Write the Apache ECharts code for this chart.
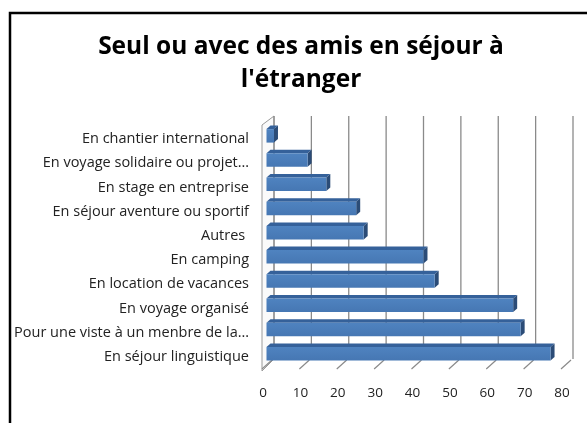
<!DOCTYPE html>
<html>
<head>
<meta charset="utf-8">
<script src="https://cdn.jsdelivr.net/npm/echarts@6/dist/echarts.min.js"></script>
<style>
  html, body { margin: 0; padding: 0; background: #fff; }
  #chart { width: 587px; height: 423px; }
</style>
</head>
<body>
<div id="chart"></div>
<script>
const categories = [
  'En chantier international',
  'En voyage solidaire ou projet…',
  'En stage en entreprise',
  'En séjour aventure ou sportif',
  'Autres ',
  'En camping',
  'En location de vacances',
  'En voyage organisé',
  'Pour une viste à un menbre de la…',
  'En séjour linguistique'
]
const values = [2, 11, 16, 24, 26, 42, 45, 66, 68, 76]
const ticks = [0, 10, 20, 30, 40, 50, 60, 70, 80]

const chart = echarts.init(document.getElementById('chart'))

// depth of the 3d box
const DX = 11
const DY = 10

// back wall gridlines + floor ticks (+ left wall on first item)
const renderWall = (params, api) => {
  const cs = params.coordSys
  const v = api.value(0)
  const x = api.coord([v, 0])[0]
  const top = cs.y
  const bottom = cs.y + cs.height
  const children = [
    {
      type: 'line',
      shape: { x1: x + DX, y1: top - DY - 1, x2: x + DX, y2: bottom - DY },
      style: { stroke: '#8a8a8a', lineWidth: 1.3 }
    },
    {
      type: 'line',
      shape: { x1: x - 1, y1: bottom, x2: x + DX - 2, y2: bottom - DY + 1 },
      style: { stroke: '#8a8a8a', lineWidth: 1.2 }
    }
  ]
  if (v === 0) {
    children.unshift({
      type: 'polygon',
      shape: {
        points: [
          [x - 1, bottom + 2],
          [x - 1, top - 2],
          [x + DX, top - DY - 1],
          [x + DX, bottom - DY]
        ]
      },
      style: { fill: '#fafafa', stroke: '#9a9a9a', lineWidth: 1 }
    })
  }
  return { type: 'group', children }
}

// 3d bars
const renderBar = (params, api) => {
  const idx = api.value(1)
  const end = api.coord([api.value(0), idx])
  const start = api.coord([0, idx])
  const x0 = start[0] + 3.5
  const x1 = end[0] + 3.5
  const t = end[1] - 10
  const b = end[1] + 3.5
  const d = 4
  const dy = 3.5
  return {
    type: 'group',
    children: [
      {
        type: 'polygon',
        shape: { points: [[x0, t], [x1, t], [x1 + d, t - dy], [x0 + d, t - dy]] },
        style: { fill: '#35619a' }
      },
      {
        type: 'polygon',
        shape: { points: [[x1, t], [x1 + d, t - dy], [x1 + d, b - dy], [x1, b]] },
        style: { fill: '#2b4c77' }
      },
      {
        type: 'rect',
        shape: { x: x0, y: t, width: x1 - x0, height: b - t },
        style: {
          fill: new echarts.graphic.LinearGradient(0, 0, 0, 1, [
            { offset: 0, color: '#4f83c0' },
            { offset: 1, color: '#4677b3' }
          ])
        }
      }
    ]
  }
}

const option = {
  backgroundColor: '#fff',
  animation: false,
  title: {
    text: "Seul ou avec des amis en séjour à\nl'étranger",
    left: 296,
    top: 26,
    textAlign: 'center',
    textStyle: {
      fontFamily: 'Open Sans',
      fontWeight: 'bold',
      fontSize: 24.5,
      lineHeight: 33,
      color: '#000'
    }
  },
  graphic: [
    {
      type: 'polyline',
      shape: { points: [[10, 423], [10, 13], [587, 13]] },
      style: { stroke: '#000', lineWidth: 2.5, fill: null }
    }
  ],
  grid: {
    left: 263,
    top: 127,
    width: 299,
    height: 242
  },
  xAxis: {
    type: 'value',
    min: 0,
    max: 80,
    interval: 10,
    axisLine: { show: false },
    axisTick: { show: false },
    splitLine: { show: false },
    axisLabel: {
      margin: 17,
      fontFamily: 'Open Sans',
      fontSize: 13.5,
      color: '#222'
    }
  },
  yAxis: {
    type: 'category',
    data: categories,
    inverse: true,
    axisLine: { show: false },
    axisTick: { show: false },
    axisLabel: {
      margin: 14,
      fontFamily: 'Open Sans',
      fontSize: 14.5,
      color: '#222'
    }
  },
  series: [
    {
      type: 'custom',
      name: 'walls',
      renderItem: renderWall,
      data: ticks.map(t => [t, 0]),
      silent: true,
      z: 1
    },
    {
      type: 'custom',
      name: 'bars',
      renderItem: renderBar,
      encode: { x: 0, y: 1 },
      data: values.map((v, i) => [v, i]),
      z: 2
    }
  ]
}

chart.setOption(option)
</script>
</body>
</html>
